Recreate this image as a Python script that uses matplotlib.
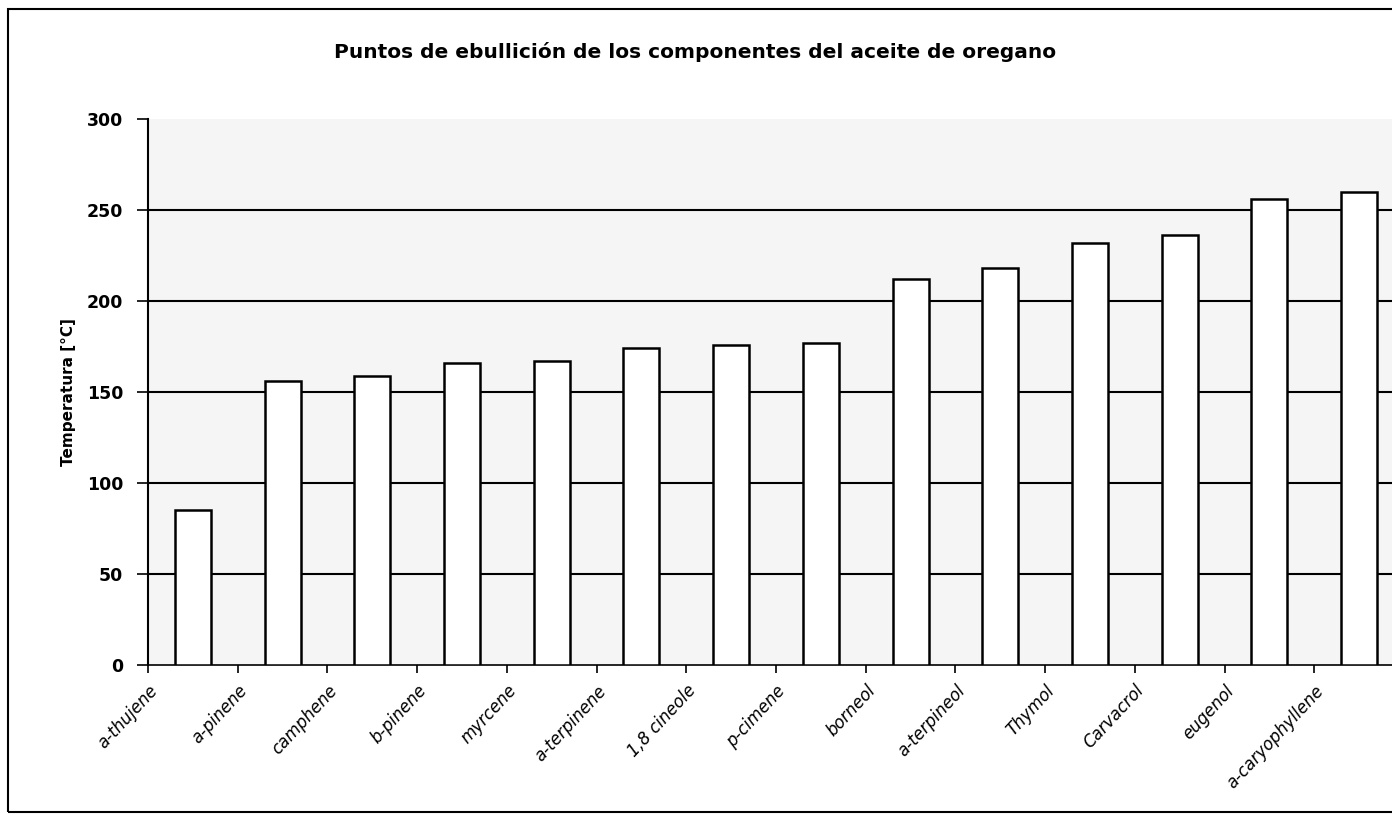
import matplotlib
matplotlib.use("Agg")
import matplotlib.pyplot as plt
from matplotlib.patches import Rectangle
import numpy as np

componentes = ["a-thujene", "a-pinene", "camphene", "b-pinene", "myrcene",
               "a-terpinene", "1,8 cineole", "p-cimene", "borneol",
               "a-terpineol", "Thymol", "Carvacrol", "eugenol",
               "a-caryophyllene"]
temperaturas = [85, 156, 159, 166, 167, 174, 176, 177, 212, 218, 232, 236, 256, 260]

titulo = "Puntos de ebullición de los componentes del aceite de oregano"
eje_y = "Temperatura [°C]"

W, H = 1392, 821
fig = plt.figure(figsize=(W / 100, H / 100), dpi=100)

# marco exterior del grafico (recortado a la derecha como en el escaneo)
fig.patches.append(Rectangle((8 / W, 9 / H), 1.2, (H - 18) / H,
                             transform=fig.transFigure, fill=False,
                             edgecolor="black", linewidth=1.5))

x0, x14 = 148, 1404
ax = fig.add_axes([x0 / W, (H - 665) / H, (x14 - x0) / W, 546 / H])
ax.set_facecolor("#f5f5f5")

pos = np.arange(len(componentes)) + 0.5
ax.bar(pos, temperaturas, width=0.4, color="white", edgecolor="black",
       linewidth=1.8, zorder=3)

ax.set_xlim(0, 14)
ax.set_ylim(0, 300)
ax.set_yticks(range(0, 301, 50))
for v in range(50, 300, 50):
    ax.axhline(v, color="black", linewidth=1.5, zorder=1)

ax.set_xticks(np.arange(len(componentes)))
ax.set_xticklabels(componentes, rotation=47, ha="right",
                   rotation_mode="anchor", style="italic",
                   family=["Liberation Sans Narrow", "DejaVu Sans"],
                   fontsize=12)
ax.tick_params(axis="x", length=6, width=1.2, pad=6)
ax.tick_params(axis="y", length=8, width=1.2, pad=10, labelsize=12.5)
for t in ax.get_yticklabels():
    t.set_fontweight("bold")

for s in ["top", "right"]:
    ax.spines[s].set_visible(False)
ax.spines["left"].set_linewidth(1.5)
ax.spines["bottom"].set_linewidth(1.2)

ax.set_ylabel(eje_y, fontsize=11, fontweight="bold", labelpad=8)

fig.text(695 / W, 1 - 52 / H, titulo, ha="center", va="center",
         fontsize=14.5, fontweight="bold")

fig.savefig("out.png", dpi=100)
